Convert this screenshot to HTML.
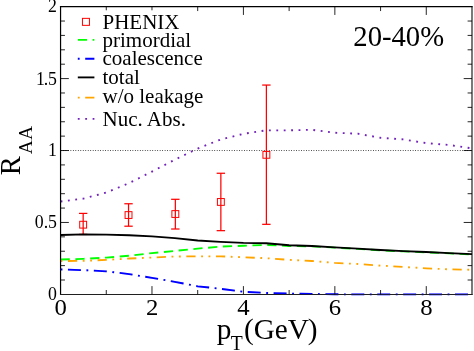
<!DOCTYPE html>
<html><head><meta charset="utf-8"><title>RAA</title>
<style>
html,body{margin:0;padding:0;background:#fff;}
body{width:474px;height:351px;overflow:hidden;}
svg{display:block;will-change:transform;}
text{font-family:"Liberation Serif",serif;fill:#000;}
</style></head><body>
<svg width="474" height="351" viewBox="0 0 474 351">
<rect x="0" y="0" width="474" height="351" fill="#fff"/>
<line x1="60.55" y1="150.52" x2="472.0" y2="150.52" stroke="#000" stroke-width="0.85" stroke-dasharray="0.8 1.68"/>
<g stroke="#ff0000" stroke-width="1.24" fill="none">
<line x1="83.16" y1="213.40" x2="83.16" y2="234.43"/>
<line x1="78.96" y1="213.40" x2="87.36" y2="213.40"/>
<line x1="78.96" y1="234.43" x2="87.36" y2="234.43"/>
<rect x="79.71" y="221.29" width="6.9" height="6.8" stroke-width="1.0"/>
<line x1="128.53" y1="203.76" x2="128.53" y2="226.20"/>
<line x1="124.33" y1="203.76" x2="132.72" y2="203.76"/>
<line x1="124.33" y1="226.20" x2="132.72" y2="226.20"/>
<rect x="125.08" y="211.65" width="6.9" height="6.8" stroke-width="1.0"/>
<line x1="175.34" y1="199.30" x2="175.34" y2="229.01"/>
<line x1="171.14" y1="199.30" x2="179.54" y2="199.30"/>
<line x1="171.14" y1="229.01" x2="179.54" y2="229.01"/>
<rect x="171.89" y="210.63" width="6.9" height="6.8" stroke-width="1.0"/>
<line x1="220.86" y1="173.26" x2="220.86" y2="230.66"/>
<line x1="216.66" y1="173.26" x2="225.06" y2="173.26"/>
<line x1="216.66" y1="230.66" x2="225.06" y2="230.66"/>
<rect x="217.41" y="198.55" width="6.9" height="6.8" stroke-width="1.0"/>
<line x1="266.38" y1="85.06" x2="266.38" y2="224.33"/>
<line x1="262.18" y1="85.06" x2="270.58" y2="85.06"/>
<line x1="262.18" y1="224.33" x2="270.58" y2="224.33"/>
<rect x="262.93" y="151.44" width="6.9" height="6.8" stroke-width="1.0"/>
</g>
<g fill="none" stroke-width="1.851" stroke-linejoin="round">
<path d="M60.55,259.52 L83.41,258.81 L106.27,257.63 L129.12,255.73 L151.98,253.12 L174.84,250.92 L197.70,248.62 L220.56,246.62 L243.42,245.77 L266.28,244.92 L289.13,245.99 L311.99,246.32 L334.85,247.61 L357.71,248.91 L380.57,250.32 L403.43,251.41 L426.28,252.32 L449.14,253.41 L472.00,254.42" stroke="#00ff00" stroke-dasharray="9.255 5.553"/>
<path d="M60.55,269.41 L83.41,270.14 L106.27,271.32 L129.12,274.11 L151.98,277.81 L174.84,281.81 L197.70,286.30 L220.56,288.79 L243.42,291.72 L266.28,293.00 L289.13,293.54 L311.99,293.97 L334.85,294.26 L357.71,294.40 L380.57,294.40 L403.43,294.40 L426.28,294.40 L449.14,294.40 L472.00,294.40" stroke="#0000ff" stroke-dasharray="1.851 5.553 12.957 5.553"/>
<path d="M60.55,235.04 L83.41,234.43 L106.27,234.58 L129.12,235.22 L151.98,236.43 L174.84,238.13 L197.70,240.53 L220.56,241.83 L243.42,242.82 L266.28,243.22 L289.13,245.22 L311.99,246.03 L334.85,247.32 L357.71,248.62 L380.57,250.03 L403.43,251.12 L426.28,252.03 L449.14,253.12 L472.00,254.13" stroke="#000"/>
<path d="M60.55,261.02 L83.41,260.88 L106.27,259.83 L129.12,258.52 L151.98,257.52 L174.84,256.52 L197.70,256.35 L220.56,256.35 L243.42,257.22 L266.28,258.22 L289.13,259.83 L311.99,261.02 L334.85,262.92 L357.71,264.01 L380.57,265.62 L403.43,266.92 L426.28,268.32 L449.14,269.31 L472.00,269.80" stroke="#ffa500" stroke-dasharray="1.851 5.553 9.255 5.553 1.851 5.553"/>
<path d="M60.55,201.46 L83.41,198.65 L106.27,192.49 L129.12,183.13 L151.98,171.60 L174.84,159.70 L197.70,148.55 L220.56,139.56 L243.42,133.79 L266.28,130.32 L289.13,130.32 L311.99,129.81 L334.85,132.77 L357.71,133.69 L380.57,137.78 L403.43,139.43 L426.28,143.14 L449.14,144.94 L472.00,148.40" stroke="#7221bc" stroke-dasharray="1.851 5.553"/>
</g>
<g stroke="#000" stroke-linecap="square">
<line x1="60.56" y1="6.65" x2="60.56" y2="294.4" stroke-width="1.2"/>
<line x1="60.55" y1="6.64" x2="472.0" y2="6.64" stroke-width="1.2"/>
<line x1="472.0" y1="6.65" x2="472.0" y2="294.4" stroke-width="1.05"/>
<line x1="60.55" y1="294.5" x2="472.0" y2="294.5" stroke-width="1.1" stroke="#202020"/>
</g>
<path d="M60.55,269.41 L83.41,270.14 L106.27,271.32 L129.12,274.11 L151.98,277.81 L174.84,281.81 L197.70,286.30 L220.56,288.79 L243.42,291.72 L266.28,293.00 L289.13,293.54 L311.99,293.97 L334.85,294.26 L357.71,294.40 L380.57,294.40 L403.43,294.40 L426.28,294.40 L449.14,294.40 L472.00,294.40" fill="none" stroke-width="1.851" stroke="#0000ff" stroke-dasharray="1.851 5.553 12.957 5.553" opacity="0.18"/>
<g stroke="#000" stroke-width="0.85">
<line x1="106.27" y1="294.4" x2="106.27" y2="290.0"/>
<line x1="106.27" y1="6.65" x2="106.27" y2="10.3"/>
<line x1="151.98" y1="294.4" x2="151.98" y2="286.09999999999997"/>
<line x1="151.98" y1="6.65" x2="151.98" y2="10.3"/>
<line x1="197.70" y1="294.4" x2="197.70" y2="290.0"/>
<line x1="197.70" y1="6.65" x2="197.70" y2="11.05"/>
<line x1="243.42" y1="294.4" x2="243.42" y2="286.09999999999997"/>
<line x1="243.42" y1="6.65" x2="243.42" y2="14.950000000000001"/>
<line x1="289.13" y1="294.4" x2="289.13" y2="290.0"/>
<line x1="289.13" y1="6.65" x2="289.13" y2="11.05"/>
<line x1="334.85" y1="294.4" x2="334.85" y2="286.09999999999997"/>
<line x1="334.85" y1="6.65" x2="334.85" y2="14.950000000000001"/>
<line x1="380.57" y1="294.4" x2="380.57" y2="290.0"/>
<line x1="380.57" y1="6.65" x2="380.57" y2="11.05"/>
<line x1="426.28" y1="294.4" x2="426.28" y2="286.09999999999997"/>
<line x1="426.28" y1="6.65" x2="426.28" y2="14.950000000000001"/>
<line x1="60.55" y1="280.01" x2="64.95" y2="280.01"/>
<line x1="472.0" y1="280.01" x2="467.6" y2="280.01"/>
<line x1="60.55" y1="265.62" x2="64.95" y2="265.62"/>
<line x1="472.0" y1="265.62" x2="467.6" y2="265.62"/>
<line x1="60.55" y1="251.24" x2="64.95" y2="251.24"/>
<line x1="472.0" y1="251.24" x2="467.6" y2="251.24"/>
<line x1="60.55" y1="236.85" x2="64.95" y2="236.85"/>
<line x1="472.0" y1="236.85" x2="467.6" y2="236.85"/>
<line x1="60.55" y1="222.46" x2="68.85" y2="222.46"/>
<line x1="472.0" y1="222.46" x2="463.7" y2="222.46"/>
<line x1="60.55" y1="208.07" x2="64.95" y2="208.07"/>
<line x1="472.0" y1="208.07" x2="467.6" y2="208.07"/>
<line x1="60.55" y1="193.69" x2="64.95" y2="193.69"/>
<line x1="472.0" y1="193.69" x2="467.6" y2="193.69"/>
<line x1="60.55" y1="179.30" x2="64.95" y2="179.30"/>
<line x1="472.0" y1="179.30" x2="467.6" y2="179.30"/>
<line x1="60.55" y1="164.91" x2="64.95" y2="164.91"/>
<line x1="472.0" y1="164.91" x2="467.6" y2="164.91"/>
<line x1="60.55" y1="150.52" x2="68.85" y2="150.52"/>
<line x1="472.0" y1="150.52" x2="463.7" y2="150.52"/>
<line x1="60.55" y1="136.14" x2="64.95" y2="136.14"/>
<line x1="472.0" y1="136.14" x2="467.6" y2="136.14"/>
<line x1="60.55" y1="121.75" x2="64.95" y2="121.75"/>
<line x1="472.0" y1="121.75" x2="467.6" y2="121.75"/>
<line x1="60.55" y1="107.36" x2="64.95" y2="107.36"/>
<line x1="472.0" y1="107.36" x2="467.6" y2="107.36"/>
<line x1="60.55" y1="92.97" x2="64.95" y2="92.97"/>
<line x1="472.0" y1="92.97" x2="467.6" y2="92.97"/>
<line x1="60.55" y1="78.59" x2="68.85" y2="78.59"/>
<line x1="472.0" y1="78.59" x2="463.7" y2="78.59"/>
<line x1="60.55" y1="64.20" x2="64.95" y2="64.20"/>
<line x1="472.0" y1="64.20" x2="467.6" y2="64.20"/>
<line x1="60.55" y1="49.81" x2="64.95" y2="49.81"/>
<line x1="472.0" y1="49.81" x2="467.6" y2="49.81"/>
<line x1="60.55" y1="35.42" x2="64.95" y2="35.42"/>
<line x1="472.0" y1="35.42" x2="467.6" y2="35.42"/>
<line x1="60.55" y1="21.04" x2="64.95" y2="21.04"/>
<line x1="472.0" y1="21.04" x2="467.6" y2="21.04"/>
</g>
<text transform="translate(60.65,314.80) scale(1.03,1)" font-size="24.0" text-anchor="middle">0</text>
<text transform="translate(152.08,314.80) scale(1.03,1)" font-size="24.0" text-anchor="middle">2</text>
<text transform="translate(243.52,314.80) scale(1.03,1)" font-size="24.0" text-anchor="middle">4</text>
<text transform="translate(334.95,314.80) scale(1.03,1)" font-size="24.0" text-anchor="middle">6</text>
<text transform="translate(426.38,314.80) scale(1.03,1)" font-size="24.0" text-anchor="middle">8</text>
<text transform="translate(57.00,300.35) scale(1.0,1)" font-size="17.8" text-anchor="end">0</text>
<text transform="translate(57.00,228.41) scale(1.0,1)" font-size="17.8" text-anchor="end">0.5</text>
<text transform="translate(57.00,156.47) scale(1.0,1)" font-size="17.8" text-anchor="end">1</text>
<text transform="translate(57.00,84.54) scale(1.0,1)" font-size="17.8" text-anchor="end"><tspan letter-spacing="-1.2">1</tspan>.5</text>
<text transform="translate(57.00,11.85) scale(1.0,1)" font-size="17.8" text-anchor="end">2</text>
<rect x="82.45" y="18.35" width="7" height="7" fill="none" stroke="#ff0000" stroke-width="1.0"/>
<g stroke-width="1.851">
<line x1="77.8" y1="39.9" x2="94.4" y2="39.9" stroke="#00ff00" stroke-dasharray="9.255 5.553"/>
<line x1="77.8" y1="58.7" x2="94.4" y2="58.7" stroke="#0000ff" stroke-dasharray="1.851 5.553 12.957 5.553"/>
<line x1="77.8" y1="77.4" x2="94.4" y2="77.4" stroke="#000"/>
<line x1="77.8" y1="97.6" x2="94.4" y2="97.6" stroke="#ffa500" stroke-dasharray="1.851 5.553 9.255 5.553 1.851 5.553"/>
<line x1="77.8" y1="118.9" x2="94.4" y2="118.9" stroke="#7221bc" stroke-dasharray="1.851 5.553"/>
</g>
<text x="102.5" y="28.50" font-size="21">PHENIX</text>
<text x="102.5" y="46.70" font-size="21">primordial</text>
<text x="102.5" y="65.10" font-size="21">coalescence</text>
<text x="102.5" y="84.00" font-size="21">total</text>
<text x="102.5" y="103.00" font-size="21">w/o leakage</text>
<text x="102.5" y="126.00" font-size="21">Nuc. Abs.</text>
<text transform="translate(353.30,46.30) scale(1.003,1)" font-size="28.6" text-anchor="start">20-40%</text>
<text transform="translate(216.80,338.90) scale(1.028,1)" font-size="28.5" text-anchor="start">p</text>
<text transform="translate(230.7,349.5) scale(1.0,1.05)" font-size="19.6">T</text>
<text transform="translate(243.90,338.90) scale(1.028,1)" font-size="28.5" text-anchor="start">(GeV<tspan dx="-1.1">)</tspan></text>
<text transform="translate(20.3,175.2) rotate(-90)" font-size="28.5">R<tspan font-size="19.5" dy="11.6" dx="2.0">AA</tspan></text>
</svg></body></html>
